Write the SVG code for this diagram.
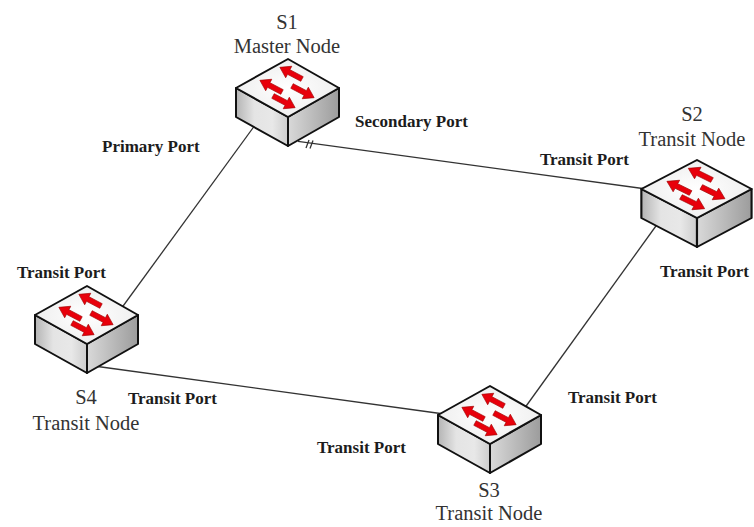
<svg xmlns="http://www.w3.org/2000/svg" width="754" height="527" viewBox="0 0 754 527">
<style>
.conn{stroke:#333;stroke-width:1.3;fill:none}
.face{stroke:#111;stroke-width:2;stroke-linejoin:round}
.arr{fill:#e8000b;stroke:#a00000;stroke-width:0.6}
.port{font-family:"Liberation Serif","Times New Roman",serif;font-weight:bold;font-size:17px;fill:#1c1c1c}
.node{font-family:"Liberation Serif","Times New Roman",serif;font-size:20.5px;fill:#333}
</style>
<defs>
<linearGradient id="gl" x1="0" y1="0" x2="1" y2="0">
<stop offset="0" stop-color="#b4b4b4"/>
<stop offset="0.35" stop-color="#e4e4e4"/>
<stop offset="0.7" stop-color="#e8e8e8"/>
<stop offset="1" stop-color="#cdcdcd"/>
</linearGradient>
<linearGradient id="gr" x1="0" y1="0" x2="1" y2="0">
<stop offset="0" stop-color="#d9d9d9"/>
<stop offset="1" stop-color="#9c9c9c"/>
</linearGradient>
<radialGradient id="gt" cx="0.5" cy="0.5" r="0.6">
<stop offset="0" stop-color="#ffffff"/>
<stop offset="1" stop-color="#ececec"/>
</radialGradient>
<path id="ar" d="M0,-2.6 L15,-2.6 L15,-6.5 L25,0 L15,6.5 L15,2.6 L0,2.6 Z"/>
<g id="switch">
<polygon class="face" fill="url(#gl)" points="-52,29 0,58 0,87 -52,58"/>
<polygon class="face" fill="url(#gr)" points="0,58 51,29 51,58 0,87"/>
<polygon class="face" fill="url(#gt)" points="0,0 51,29 0,58 -52,29"/>
<use href="#ar" class="arr" transform="translate(14,20) rotate(207.8)"/>
<use href="#ar" class="arr" transform="translate(-6,33) rotate(207.8)"/>
<use href="#ar" class="arr" transform="translate(4,27) rotate(27.8)"/>
<use href="#ar" class="arr" transform="translate(-15,37) rotate(27.8)"/>
</g>
</defs>
<rect width="754" height="527" fill="#ffffff"/>
<g id="connectors">
<line class="conn" x1="258" y1="121" x2="118" y2="313"/>
<line class="conn" x1="298" y1="141.3" x2="650" y2="189.5"/>
<line class="conn" x1="306" y1="148" x2="309" y2="140"/>
<line class="conn" x1="310" y1="148.5" x2="313" y2="140.5"/>
<line class="conn" x1="657" y1="224.5" x2="524" y2="409"/>
<line class="conn" x1="94" y1="366" x2="444" y2="414"/>
</g>
<g id="S1">
<use href="#switch" transform="translate(288,59)"/>
<text class="node" x="287" y="29" text-anchor="middle">S1</text>
<text class="node" x="287" y="53" text-anchor="middle">Master Node</text>
<text class="port" x="102" y="152">Primary Port</text>
<text class="port" x="355" y="127">Secondary Port</text>
</g>
<g id="S2">
<use href="#switch" transform="translate(697,160) scale(1.07,1)"/>
<text class="node" x="692" y="121" text-anchor="middle">S2</text>
<text class="node" x="692" y="146" text-anchor="middle">Transit Node</text>
<text class="port" x="540" y="165">Transit Port</text>
<text class="port" x="660" y="277">Transit Port</text>
</g>
<g id="S3">
<use href="#switch" transform="translate(490,386)"/>
<text class="node" x="489" y="497" text-anchor="middle">S3</text>
<text class="node" x="489" y="520" text-anchor="middle">Transit Node</text>
<text class="port" x="568" y="403">Transit Port</text>
<text class="port" x="317" y="453">Transit Port</text>
</g>
<g id="S4">
<use href="#switch" transform="translate(87,286)"/>
<text class="node" x="86" y="404" text-anchor="middle">S4</text>
<text class="node" x="86" y="430" text-anchor="middle">Transit Node</text>
<text class="port" x="17" y="278">Transit Port</text>
<text class="port" x="128" y="404">Transit Port</text>
</g>
</svg>
